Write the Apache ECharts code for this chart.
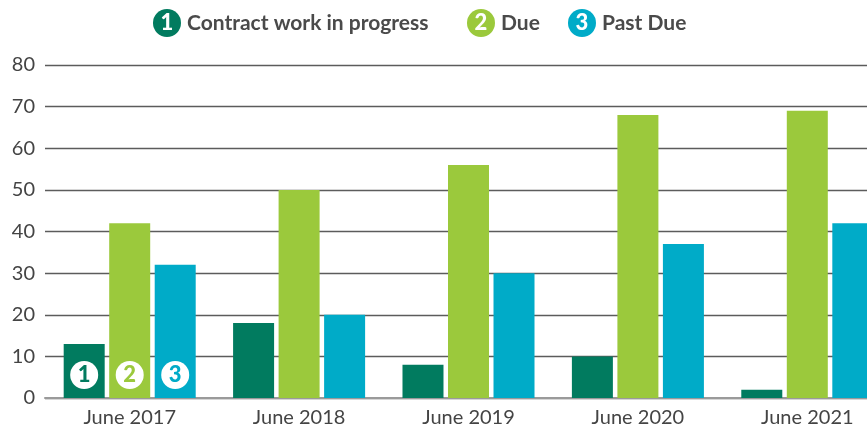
<!DOCTYPE html>
<html><head><meta charset="utf-8">
<script src="https://cdn.jsdelivr.net/npm/echarts@6/dist/echarts.min.js"></script>
<style>html,body{margin:0;padding:0;background:#fff}#c{width:867px;height:433px}</style>
</head><body><div id="c"></div>
<script>
const categories = ['June 2017','June 2018','June 2019','June 2020','June 2021'];
const seriesNames = ['Contract work in progress','Due','Past Due'];
const contractWip = [13, 18, 8, 10, 2];
const due = [42, 50, 56, 68, 69];
const pastDue = [32, 20, 30, 37, 42];
const yTicks = [0, 10, 20, 30, 40, 50, 60, 70, 80];
const colors = ['#017b5f', '#9bc93c', '#00abc8'];
const font = 'Lato, "Open Sans", sans-serif';

const chart = echarts.init(document.getElementById('c'), null, {renderer:'canvas'});
const values = [contractWip, due, pastDue];

function badgeLabel(i){
  return {
    show: true, position: 'insideBottom', distance: 9,
    formatter: '{a|' + (i+1) + '}',
    rich: {
      a: {backgroundColor: '#fff', borderRadius: 14, width: 28, height: 28,
          lineHeight: 28, align: 'center', color: colors[i],
          fontFamily: font, fontWeight: 900, fontSize: 22}
    }
  };
}

const series = values.map((vals, i) => ({
  name: seriesNames[i], type: 'bar', barWidth: 41, barGap: '11%',
  itemStyle: {color: colors[i]},
  data: vals.map((v, j) => j === 0 ? {value: v, label: badgeLabel(i)} : v)
}));

const legendLefts = [143, 457, 558];
const legends = seriesNames.map((n, i) => ({
  data: [n], left: legendLefts[i], top: 4, itemWidth: 0, itemHeight: 0,
  selectedMode: false,
  formatter: name => '{b|' + (i+1) + '}{t|' + name + '}',
  textStyle: {
    rich: {
      b: {backgroundColor: colors[i], color: '#fff', borderRadius: 14, width: 28, height: 28,
          lineHeight: 28, align: 'center', fontFamily: font, fontWeight: 900, fontSize: 22},
      t: {color: '#4a4a4a', fontFamily: font, fontWeight: 'bold', fontSize: 21, padding: [0,0,0,6]}
    }
  }
}));

chart.setOption({
  animation: false,
  color: colors,
  legend: legends,
  grid: {left: 45, top: 65, bottom: 35, right: -25, containLabel: false, outerBoundsMode: 'none'},
  xAxis: {
    type: 'category', data: categories,
    axisTick: {show: false},
    axisLine: {lineStyle: {color: '#9a9a9a', width: 2}},
    axisLabel: {color: '#444', fontFamily: font, fontSize: 20, margin: 10}
  },
  yAxis: {
    type: 'value', min: yTicks[0], max: yTicks[yTicks.length-1], interval: 10,
    axisLine: {show: false}, axisTick: {show: false},
    axisLabel: {color: '#444', fontFamily: font, fontSize: 20, margin: 10},
    splitLine: {lineStyle: {color: '#5c5c5c', width: 1.3}}
  },
  series: series
});
</script></body></html>
